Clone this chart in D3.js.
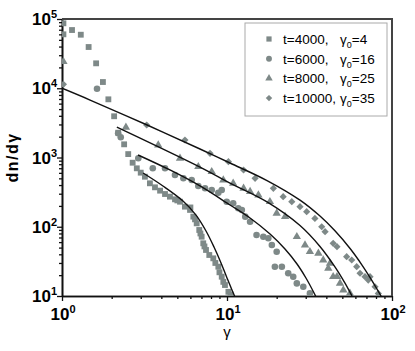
<!DOCTYPE html>
<html>
<head>
<meta charset="utf-8">
<script src="https://cdn.jsdelivr.net/npm/d3@7"></script>
<style>
  body { margin: 0; background: #fff; }
  text { font-family: "Liberation Sans", Arial, sans-serif; }
</style>
</head>
<body>
<div id="chart"></div>
<script>
// data
var gamma4000 = [1.02, 1.02, 1.15, 1.30, 1.45, 1.61, 1.77, 1.91, 2.07, 2.19, 2.38, 2.52, 2.68, 2.84, 3.00, 3.18, 3.41, 3.66, 3.93, 4.21, 4.51, 4.84, 5.0, 5.19, 5.56, 5.97, 6.0, 6.25, 6.4, 6.55, 6.79, 6.9, 7.02, 7.18, 7.3, 7.46, 7.81, 8.26, 8.5, 8.86, 9.0, 9.29, 9.5, 9.72, 10.2, 10.5];
var dn4000    = [86700, 60100, 69300, 59300, 39400, 22900, 12300, 6920, 3940, 2280, 1550, 1120, 841, 698, 604, 528, 424, 371, 332, 297, 272, 249, 240, 230, 195, 175, 190, 140, 128, 112, 89.8, 80, 71.8, 57.7, 52, 46.2, 39.1, 35.0, 30, 26.5, 22, 19.0, 16, 14.4, 11.5, 10.5];

var gamma6000 = [1.63, 2.19, 2.27, 2.90, 3.55, 4.21, 4.84, 5.44, 6.11, 6.70, 7.36, 8.08, 8.86, 9.29, 9.96, 10.9, 11.7, 12.3, 12.9, 13.8, 15.1, 16.6, 17.8, 18.7, 20.0, 19.5, 21.5, 23.5, 25.2, 26.5, 29.0, 31.8];
var dn6000    = [9860, 2240, 1960, 973, 698, 698, 559, 501, 473, 388, 359, 340, 310, 340, 230, 218, 185, 175, 140, 118, 76, 71.8, 68.1, 54.5, 43.6, 26.5, 26.5, 21.3, 19.0, 15.2, 13.6, 10.9];

var gamma8000 = [1.02, 2.44, 3.83, 5.19, 6.70, 8.08, 9.5, 10.9, 12.6, 13.8, 15.5, 18.2, 20.0, 22.5, 26.5, 29.7, 31.8, 35.8, 38.3, 41.1, 42.1, 44.0, 46.4, 48.4, 50.7, 55.6];
var dn8000    = [24200, 2730, 1515, 973, 736, 624, 473, 424, 359, 321, 287, 230, 156, 140, 71.8, 54.5, 43.6, 41.3, 33.1, 25.1, 29.6, 19.0, 19.0, 15.2, 12.2, 10.9];

var gamma10000 = [1.02, 3.26, 5.56, 7.89, 10.2, 12.6, 14.8, 19.1, 21.9, 24.7, 27.7, 30.4, 34.1, 37.5, 39.3, 44.0, 46.4, 53.1, 57.0, 61.1, 64.0, 68.6, 71.8, 73.6, 78.9, 82.6];
var dn10000    = [11400, 2945, 1790, 1150, 869, 660, 501, 359, 272, 230, 195, 165, 132, 100, 84.8, 57.7, 51.5, 37.0, 33.1, 26.5, 21.3, 19.0, 17.0, 19.0, 13.6, 10.9];

// fitted curves
var fitGamma4000 = [3.10, 4.09, 5.41, 6.49, 7.46, 8.34, 9.20, 10.0, 10.72, 11.18];
var fitDn4000    = [597, 388, 235, 147, 86.8, 51.0, 30.0, 18.2, 12.2, 9.67];
var fitGamma6000 = [2.89, 4.51, 6.86, 10.43, 13.79, 18.23, 22.46, 26.57, 30.1, 33.7, 35.1];
var fitDn6000    = [1087, 660, 388, 206, 134, 78.6, 47.7, 29.0, 18.2, 11.05, 9.05];
var fitGamma8000 = [2.15, 6.86, 10.43, 17.48, 27.7, 36.6, 45.1, 51.9, 57.2, 60.5];
var fitDn8000    = [2756, 729, 428, 228.5, 104.2, 51.9, 26.3, 15.3, 10, 7.74];
var fitGamma10000 = [1, 1.48, 3.28, 6.86, 10.43, 17.48, 27.7, 36.6, 45.1, 55.7, 65.8, 75.6, 85.8, 90.7];
var fitDn10000    = [10000, 6761, 2946, 1327, 833, 464, 242, 142.5, 87.4, 48.5, 28.0, 16.7, 10, 7.87];

var legendT = ["t=4000,", "t=6000,", "t=8000,", "t=10000,"];
var legendG0 = ["4", "16", "25", "35"];

var xTicks = [1, 10, 100];
var xTickExp = ["0", "1", "2"];
var yTicks = [10, 100, 1000, 10000, 100000];
var yTickExp = ["1", "2", "3", "4", "5"];

var svgWidth = 415, svgHeight = 351;
var margin = {top: 19, right: 23, bottom: 55, left: 62};
var width = svgWidth - margin.left - margin.right;
var height = svgHeight - margin.top - margin.bottom;
var grey = "#7e8988";

var svg = d3.select("#chart").append("svg")
  .attr("width", svgWidth)
  .attr("height", svgHeight);

var chartGroup = svg.append("g")
  .attr("transform", `translate(${margin.left}, ${margin.top})`);

var x = d3.scaleLog().domain([1, 100]).range([0, width]);
var y = d3.scaleLog().domain([10, 100000]).range([height, 0]);

svg.append("defs").append("clipPath").attr("id", "clip")
  .append("rect").attr("width", width).attr("height", height);

// minor ticks
var xMinor = [], yMinor = [];
[1, 10].forEach(function(b) { for (var i = 2; i <= 9; i++) xMinor.push(b * i); });
[10, 100, 1000, 10000].forEach(function(b) { for (var i = 2; i <= 9; i++) yMinor.push(b * i); });

function styleAxis(g) {
  g.select(".domain").attr("stroke", "#111").attr("stroke-width", 1.6);
  g.selectAll(".tick line").attr("stroke", "#111").attr("stroke-width", 1.3);
  g.selectAll(".tick text").remove();
}

chartGroup.append("g")
  .attr("transform", `translate(0, ${height})`)
  .call(d3.axisBottom(x).tickValues(xMinor).tickSize(3).tickSizeOuter(0))
  .call(styleAxis);
chartGroup.append("g")
  .attr("transform", `translate(0, ${height})`)
  .call(d3.axisBottom(x).tickValues(xTicks).tickSize(5).tickSizeOuter(0))
  .call(styleAxis);
chartGroup.append("g")
  .call(d3.axisLeft(y).tickValues(yMinor).tickSize(3).tickSizeOuter(0))
  .call(styleAxis);
chartGroup.append("g")
  .call(d3.axisLeft(y).tickValues(yTicks).tickSize(5).tickSizeOuter(0))
  .call(styleAxis);

// top and right frame
chartGroup.append("path")
  .attr("d", `M0,0H${width}V${height}`)
  .attr("fill", "none")
  .attr("stroke", "#444")
  .attr("stroke-width", 2);

// tick labels with superscripts
xTicks.forEach(function(v, i) {
  var t = chartGroup.append("text")
    .attr("x", x(v) + 1)
    .attr("y", height + 24)
    .attr("text-anchor", "middle")
    .style("font-weight", "bold")
    .style("font-size", "17px");
  t.append("tspan").text("10");
  t.append("tspan").attr("dy", -7).style("font-size", "11px").text(xTickExp[i]);
});
yTicks.forEach(function(v, i) {
  var t = chartGroup.append("text")
    .attr("x", -5)
    .attr("y", y(v) + 6)
    .attr("text-anchor", "end")
    .style("font-weight", "bold")
    .style("font-size", "17px");
  t.append("tspan").text("10");
  t.append("tspan").attr("dy", -7).style("font-size", "11px").text(yTickExp[i]);
});

// axis titles
svg.append("text")
  .attr("transform", `translate(${margin.left + x(10)}, 337)`)
  .attr("text-anchor", "middle")
  .style("font-size", "15px")
  .text("γ");
svg.append("text")
  .attr("transform", `translate(18, ${margin.top + height / 2}) rotate(-90)`)
  .attr("text-anchor", "middle")
  .style("font-weight", "bold")
  .style("font-size", "16px")
  .style("letter-spacing", "1.5px")
  .text("dn/dγ");

// scatter
var series = [
  {g: gamma4000, d: dn4000, sym: d3.symbolSquare, size: 34, rot: 0},
  {g: gamma6000, d: dn6000, sym: d3.symbolCircle, size: 34, rot: 0},
  {g: gamma8000, d: dn8000, sym: d3.symbolTriangle, size: 30, rot: 0},
  {g: gamma10000, d: dn10000, sym: d3.symbolSquare, size: 26, rot: 45}
];

var plot = chartGroup.append("g").attr("clip-path", "url(#clip)");

series.forEach(function(s) {
  var pts = s.g.map(function(v, i) { return [v, s.d[i]]; });
  plot.selectAll(null)
    .data(pts)
    .enter()
    .append("path")
    .attr("d", d3.symbol().type(s.sym).size(s.size))
    .attr("transform", function(d) {
      return `translate(${x(d[0])},${y(d[1])}) rotate(${s.rot})`;
    })
    .attr("fill", grey);
});

// fitted lines
var line = d3.line()
  .x(function(d) { return x(d[0]); })
  .y(function(d) { return y(d[1]); })
  .curve(d3.curveCatmullRom.alpha(0.5));

[[fitGamma4000, fitDn4000], [fitGamma6000, fitDn6000],
 [fitGamma8000, fitDn8000], [fitGamma10000, fitDn10000]].forEach(function(f) {
  var pts = f[0].map(function(v, i) { return [v, f[1][i]]; });
  plot.append("path")
    .datum(pts)
    .attr("d", line)
    .attr("fill", "none")
    .attr("stroke", "#111")
    .attr("stroke-width", 1.4);
});

// legend
var legend = svg.append("g");
legend.append("rect")
  .attr("x", 245).attr("y", 23)
  .attr("width", 142).attr("height", 93)
  .attr("fill", "#fff")
  .attr("stroke", "#aaa");

legendT.forEach(function(t, i) {
  var cy = 39 + i * 19.7;
  var s = series[i];
  legend.append("path")
    .attr("d", d3.symbol().type(s.sym).size(s.size * 0.8))
    .attr("transform", `translate(269,${cy}) rotate(${s.rot})`)
    .attr("fill", grey);
  legend.append("text")
    .attr("x", 283).attr("y", cy + 5)
    .style("font-size", "13.5px")
    .text(t);
  var g0 = legend.append("text")
    .attr("x", 340).attr("y", cy + 5)
    .style("font-size", "13.5px");
  g0.append("tspan").text("γ");
  g0.append("tspan").attr("dy", 4).style("font-size", "9px").text("0");
  g0.append("tspan").attr("dy", -4).text("=" + legendG0[i]);
});
</script>
</body>
</html>
